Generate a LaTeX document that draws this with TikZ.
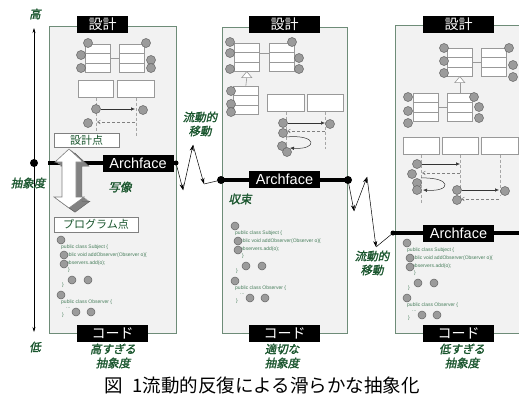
\documentclass[tikz,border=0pt]{standalone}
\usepackage{fontspec}
\usetikzlibrary{arrows.meta,calc}
\newfontfamily\cjk{Noto Sans CJK JP}
\newfontfamily\cjkit[FakeSlant=0.2,FakeBold=1.5]{Noto Sans CJK JP}
\newfontfamily\arialf{Liberation Sans}
\definecolor{panelfill}{RGB}{242,242,242}
\definecolor{panelline}{RGB}{110,140,120}
\definecolor{labgreen}{RGB}{25,85,45}
\definecolor{codegreen}{RGB}{70,125,90}
\definecolor{ballfill}{RGB}{155,155,155}
\definecolor{ballline}{RGB}{100,100,100}
\definecolor{sidegray}{RGB}{130,130,130}
\tikzset{
 panel/.style={fill=panelfill, draw=panelline, line width=0.8pt, inner sep=0, anchor=north west},
 hdr/.style={fill=black, text=white, inner sep=0, minimum width=71pt, minimum height=17pt, font=\cjk\fontsize{14}{14}\selectfont},
 archbox/.style={fill=black, text=white, inner sep=0, minimum width=71pt, minimum height=17pt, font=\arialf\fontsize{14.5}{14.5}\selectfont},
 glab/.style={text=labgreen, align=center, inner sep=0, font=\cjkit\fontsize{11.5}{14}\selectfont},
 ptbox/.style={draw=gray, fill=white, text=labgreen, inner sep=0, minimum height=14pt, font=\cjk\fontsize{11}{11}\selectfont},
 ball/.style={circle, fill=ballfill, draw=ballline, line width=0.5pt, inner sep=0, minimum size=9pt},
 cball/.style={ball, minimum size=8pt},
 clsbox/.style={draw=gray!80, fill=white, line width=0.6pt, inner sep=0, minimum width=25pt, minimum height=28pt, anchor=north west},
 clsline/.style={draw=gray!80, line width=0.6pt},
 seqbox/.style={draw=gray!80, fill=white, line width=0.6pt, inner sep=0, minimum height=17pt, anchor=north west},
 life/.style={draw=gray!70, dash pattern=on 3pt off 2pt, line width=0.6pt},
 msg/.style={-{Latex[length=4pt,width=3.5pt]}, line width=0.5pt, draw=black!80},
 ret/.style={-{Straight Barb[length=3pt,width=4pt]}, dash pattern=on 3pt off 2pt, line width=0.5pt, draw=gray},
 code/.style={text=codegreen, inner sep=0, anchor=west, font=\arialf\fontsize{5}{5}\selectfont},
 archline/.style={line width=3.5pt},
 zz/.style={-{Stealth[length=6pt,width=4pt]}, line width=0.5pt},
 enddot/.style={circle, fill=black, inner sep=0, minimum size=#1},
}
\newcommand\umlclass[3]{%
  \node[clsbox] (#1) at (#2,#3) {};
  \draw[clsline] ($(#1.north west)!0.3333!(#1.south west)$) -- ($(#1.north east)!0.3333!(#1.south east)$);
  \draw[clsline] ($(#1.north west)!0.6667!(#1.south west)$) -- ($(#1.north east)!0.6667!(#1.south east)$);
}
\newcommand\codeblk[3]{%
\begin{scope}[shift={(#2,#3)}]
 \node[cball] (#1a) at (0,0) {};
 \node[code] (#1t1) at (0,7) {public class Subject \{};
 \node[code] (#1t2) at (2,15) {public void addObserver(Observer o)\{};
 \node[cball] (#1b) at (3,15) {};
 \node[code] (#1t3) at (5,23) {observers.add(o);};
 \node[cball] (#1c) at (3,24) {};
 \node[code] (#1t4) at (7,30) {\}};
 \node[cball] (#1d) at (11,40) {};
 \node[cball] (#1e) at (27,40) {};
 \node[code] (#1t5) at (1,45) {\}};
 \node[code] (#1t6) at (0,62) {public class Observer \{};
 \node[cball] (#1f) at (0,55) {};
 \node[code] (#1t7) at (5,68) {...};
 \node[cball] (#1g) at (15,72) {};
 \node[cball] (#1h) at (30,72) {};
 \node[code] (#1t8) at (1,75) {\}};
\end{scope}}
\begin{document}
\begin{tikzpicture}[x=1pt,y=-1pt]
\useasboundingbox (0,0) rectangle (519,399);

% ---------- panels ----------
\node[panel, minimum width=127pt, minimum height=307pt] (P1) at (49,26) {};
\node[panel, minimum width=125pt, minimum height=306pt] (P2) at (222,27) {};
\fill[panelfill] (395,25) rectangle (519,333);
\draw[panelline, line width=0.8pt] (519,25) -- (395,25) -- (395,333) -- (519,333);

% ---------- axis ----------
\coordinate (axtop) at (34,28);
\coordinate (axbot) at (34,332);
\draw[{Stealth[length=5pt,width=3pt]}-{Stealth[length=5pt,width=3pt]}, line width=0.5pt] (axtop) -- (axbot);
\node[glab] (hi) at (35,14) {高};
\node[glab] (lo) at (35,347) {低};
\node[glab] (abs) at (28,183) {抽象度};
\node[enddot=8pt] (axdot) at (34,163) {};

% ---------- panel 1 design ----------
\umlclass{c1a}{85}{44}
\umlclass{c1b}{119}{44}
\draw[clsline] (c1a.east) -- (c1b.west);
\foreach \n/\x/\y in {1/88/43, 2/81/55, 3/81/68, 4/146/43, 5/151/60, 6/151/68}
  \node[ball] (b1\n) at (\x,\y) {};
\node[seqbox, minimum width=35pt] (s1a) at (78,80) {};
\node[seqbox, minimum width=37pt] (s1b) at (117,80) {};
\coordinate (l1a) at ($(s1a.south)+(0,36)$);
\coordinate (l1b) at ($(s1b.south)+(0,38)$);
\draw[life] (s1a.south) -- (l1a);
\draw[life] (s1b.south) -- (l1b);
\node[ball] (q1) at (96,109) {};
\coordinate (m1e) at (135,109);
\draw[msg] (q1) -- (m1e);
\node[ball] (q2) at (143,110) {};
\coordinate (r1s) at (135,122);
\coordinate (r1e) at (97,122);
\draw[ret] (r1s) -- (r1e);
\node[ball] (q3) at (88,123) {};

% ---------- panel 2 design ----------
\umlclass{c2a}{234}{43}
\umlclass{c2b}{269}{43}
\draw[clsline] ($(c2a.north east)!0.36!(c2a.south east)$) -- ($(c2b.north west)!0.36!(c2b.south west)$);
\umlclass{c2c}{233}{86}
\coordinate (t2b) at ($(c2a.south)+(0,6)$);
\draw[clsline] (t2b) -- (c2c.north);
\draw[clsline, fill=white] (c2a.south) -- ++(-5,6) -- ++(10,0) -- cycle;
\foreach \n/\x/\y in {1/230/42, 2/230/53, 3/230/69, 4/292/42, 5/299/58, 6/299/69, 7/231/91, 8/231/104, 9/231/112}
  \node[ball] (b2\n) at (\x,\y) {};
\node[seqbox, minimum width=37pt] (s2a) at (267,94) {};
\node[seqbox, minimum width=36pt] (s2b) at (307,94) {};
\coordinate (l2a) at ($(s2a.south)+(0,39)$);
\coordinate (l2b) at ($(s2b.south)+(0,37)$);
\draw[life] (s2a.south) -- (l2a);
\draw[life] (s2b.south) -- (l2b);
\node[ball] (u1) at (283,123) {};
\coordinate (m2e) at (325,123);
\draw[msg] (u1) -- (m2e);
\node[ball] (u2) at (330,124) {};
\coordinate (r2s) at (325,131);
\coordinate (r2e) at (287,131);
\draw[ret] (r2s) -- (r2e);
\node[ball] (u3) at (283,133) {};
\coordinate (lp2s) at (286,137);
\coordinate (lp2e) at (290,148);
\draw[msg] (lp2s) .. controls (318,134) and (318,150) .. (lp2e);
\node[ball] (u4) at (282,146) {};
\node[ball] (u5) at (287,152) {};

% ---------- panel 3 design ----------
\umlclass{c3a}{447}{48}
\umlclass{c3b}{481}{48}
\draw[clsline] (c3a.east) -- (c3b.west);
\umlclass{c3c}{413}{93}
\umlclass{c3d}{447}{93}
\draw[clsline] (c3c.east) -- (c3d.west);
\coordinate (t3b) at ($(c3a.south)+(0,6)$);
\draw[clsline] (t3b) -- (c3d.north);
\draw[clsline, fill=white] (c3a.south) -- ++(-5,6) -- ++(10,0) -- cycle;
\foreach \n/\x/\y in {1/444/48, 2/444/61, 3/444/73, 4/509/48, 5/513/65, 6/513/77, 7/408/97, 8/408/111, 9/408/123, 10/474/97, 11/479/107, 12/479/118}
  \node[ball] (b3\n) at (\x,\y) {};
\node[seqbox, minimum width=36pt] (s3a) at (403,137) {};
\node[seqbox, minimum width=36pt] (s3b) at (442,137) {};
\node[seqbox, minimum width=37pt] (s3c) at (481,137) {};
\coordinate (l3a) at ($(s3a.south)+(0,48)$);
\coordinate (l3b) at ($(s3b.south)+(0,48)$);
\coordinate (l3c) at ($(s3c.south)+(0,41)$);
\draw[life] (s3a.south) -- (l3a);
\draw[life] (s3b.south) -- (l3b);
\draw[life] (s3c.south) -- (l3c);
\node[ball] (v1) at (417,164) {};
\coordinate (m3e) at (460,164);
\draw[msg] (v1) -- (m3e);
\coordinate (r3s) at (460,173);
\coordinate (r3e) at (422,173);
\draw[ret] (r3s) -- (r3e);
\node[ball] (v2) at (412,174) {};
\coordinate (lp3s) at (421,178);
\coordinate (lp3e) at (423,190);
\draw[msg] (lp3s) .. controls (452,177) and (452,192) .. (lp3e);
\node[ball] (v3) at (417,183) {};
\node[ball] (v4) at (417,190) {};
\node[ball] (v5) at (457,190) {};
\coordinate (m4e) at (499,190);
\draw[msg] (v5) -- (m4e);
\node[ball] (v6) at (505,191) {};
\coordinate (r4s) at (499,199);
\coordinate (r4e) at (461,199);
\draw[ret] (r4s) -- (r4e);
\node[ball] (v7) at (457,200) {};

% ---------- code blocks ----------
\codeblk{k1}{61}{240}
\codeblk{k2}{235}{226}
\codeblk{k3}{407}{243}

% ---------- Archface lines ----------
\coordinate (a1s) at (48,163);
\node[enddot=5pt] (a1e) at (176,163) {};
\draw[archline] (a1s) -- (a1e.center);
\node[enddot=8pt] (a2s) at (221,180) {};
\node[enddot=8pt] (a2e) at (348,180) {};
\draw[archline] (a2s.center) -- (a2e.center);
\node[enddot=5pt] (a3s) at (393,233) {};
\coordinate (a3e) at (519,233);
\draw[archline] (a3s.center) -- (a3e);

% ---------- 3D double arrow ----------
\def\dblarrow{(69,149) -- (83,162) -- (76,162) -- (76,197) -- (84,197) -- (69,208) -- (54,197) -- (62,197) -- (62,162) -- (55,162) -- cycle}
\foreach \s in {1,2,...,7}
  \fill[sidegray, shift={(\s*0.85,\s*0.6)}] \dblarrow;
\draw[sidegray!70!black, line width=0.4pt, shift={(6,4.2)}] \dblarrow;
\filldraw[fill=white, draw=gray, line width=0.6pt] \dblarrow;

\node[ptbox, minimum width=65pt] (dp) at (86.5,140) {設計点};
\node[ptbox, minimum width=84pt, minimum height=15pt] (pp) at (96,224.5) {プログラム点};

% ---------- header / footer boxes ----------
\node[hdr, minimum width=51pt] (h1) at (102.5,24.5) {設計};
\node[hdr] (h2) at (284.5,24.5) {設計};
\node[hdr] (h3) at (458.5,24) {設計};
\node[hdr] (f1) at (112.5,333) {コード};
\node[hdr] (f2) at (284.5,333) {コード};
\node[hdr] (f3) at (458.5,333) {コード};
\node[archbox] (x1) at (138,163) {Archface};
\node[archbox] (x2) at (284.5,179) {Archface};
\node[archbox] (x3) at (458.5,233.5) {Archface};

% ---------- zigzags ----------
\coordinate (z1) at (183,190);
\coordinate (z2) at (193,145);
\coordinate (z3) at (204,184);
\draw[zz] (a1e) -- (z1);
\draw[zz] (z1) -- (z2);
\draw[zz] (z2) -- (z3);
\draw[line width=0.5pt] (z3) -- (a2s);
\coordinate (w1) at (354,211);
\coordinate (w2) at (367,177);
\coordinate (w3) at (376,247);
\draw[zz] (a2e) -- (w1);
\draw[zz] (w1) -- (w2);
\draw[zz] (w2) -- (w3);
\draw[line width=0.5pt] (w3) -- (a3s);

% ---------- labels ----------
\node[glab] (fm1) at (200,124) {流動的\\移動};
\node[glab] (fm2) at (372,263) {流動的\\移動};
\node[glab] (sz) at (120,187) {写像};
\node[glab] (sk) at (240,199) {収束};
\node[glab] (e1) at (113,356) {高すぎる\\抽象度};
\node[glab] (e2) at (282,356) {適切な\\抽象度};
\node[glab] (e3) at (462,356) {低すぎる\\抽象度};
\node[inner sep=0, font=\cjk\fontsize{18.5}{18.5}\selectfont] (cap) at (262,385) {図\hspace{0.5em}1流動的反復による滑らかな抽象化};
\end{tikzpicture}
\end{document}
